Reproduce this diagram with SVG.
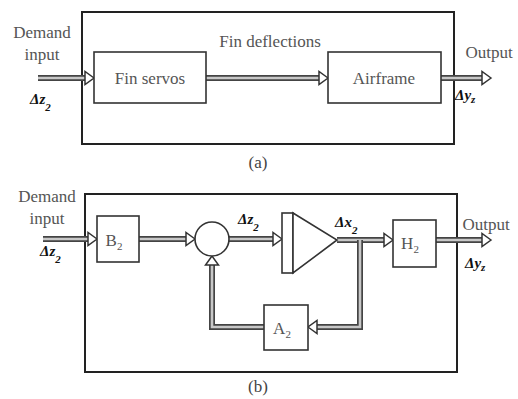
<svg xmlns="http://www.w3.org/2000/svg" width="518" height="399" viewBox="0 0 518 399">
<style>
.frame{fill:none;stroke:#222;stroke-width:2}
.blk{fill:#fff;stroke:#333;stroke-width:1.6}
.txt{font-family:"Liberation Serif",serif;font-size:17px;fill:#555}
.cap{font-family:"Liberation Serif",serif;font-size:17px;fill:#444}
.sym{font-family:"Liberation Serif",serif;font-size:15px;font-weight:bold;font-style:italic;fill:#111}
.sub{font-size:11px}
.shaftO{fill:none;stroke:#444;stroke-width:6}
.shaftI{fill:none;stroke:#c8c8c8;stroke-width:2.6}
.head{fill:#fff;stroke:#333;stroke-width:1.5;stroke-linejoin:miter}
</style>
<defs>
<polygon id="ah" class="head" points="0,0 -9,-6.5 -9,6.5"/>
</defs>
<rect width="518" height="399" fill="#fff"/>

<!-- Panel (a) -->
<rect class="frame" x="82" y="12" width="372" height="132"/>
<g id="connectors-a">
<path class="shaftO" d="M38,78H86"/><path class="shaftI" d="M38,78H86"/><use href="#ah" x="94" y="78"/>
<path class="shaftO" d="M206,78H320"/><path class="shaftI" d="M206,78H320"/><use href="#ah" x="328" y="78"/>
<path class="shaftO" d="M441,78H483"/><path class="shaftI" d="M441,78H483"/><use href="#ah" x="491" y="78"/>
</g>
<g id="fin-servos"><rect class="blk" x="94" y="52" width="112" height="51"/><text class="txt" x="150" y="84" text-anchor="middle">Fin servos</text></g>
<g id="airframe"><rect class="blk" x="328" y="52" width="113" height="51"/><text class="txt" x="384" y="84" text-anchor="middle">Airframe</text></g>
<text class="txt" x="42" y="38" text-anchor="middle">Demand</text>
<text class="txt" x="42" y="60" text-anchor="middle">input</text>
<text class="txt" x="270" y="47" text-anchor="middle">Fin deflections</text>
<text class="txt" x="489" y="58" text-anchor="middle">Output</text>
<text class="sym" x="30" y="104">Δz<tspan class="sub" dy="7">2</tspan></text>
<text class="sym" x="455" y="100">Δy<tspan class="sub" dy="3">z</tspan></text>
<text class="cap" x="258" y="168" text-anchor="middle">(a)</text>

<!-- Panel (b) -->
<rect class="frame" x="85" y="194" width="372" height="178"/>
<g id="connectors-b">
<path class="shaftO" d="M43,239H89"/><path class="shaftI" d="M43,239H89"/><use href="#ah" x="97" y="239"/>
<path class="shaftO" d="M139,239H187"/><path class="shaftI" d="M139,239H187"/><use href="#ah" x="195" y="239"/>
<path class="shaftO" d="M229,239H274"/><path class="shaftI" d="M229,239H274"/><use href="#ah" x="282" y="239"/>
<path class="shaftO" d="M337,240H385"/><path class="shaftI" d="M337,240H385"/><use href="#ah" x="393" y="240"/>
<path class="shaftO" d="M436,240H483"/><path class="shaftI" d="M436,240H483"/><use href="#ah" x="491" y="240"/>
<path class="shaftO" d="M360,240V327H316"/><path class="shaftI" d="M360,240V327H316"/><use href="#ah" x="308" y="327" transform="rotate(180 308 327)"/>
<path class="shaftO" d="M264,327H212V264"/><path class="shaftI" d="M264,327H212V264"/><use href="#ah" x="212" y="256" transform="rotate(-90 212 256)"/>
</g>
<g id="b2"><rect class="blk" x="97" y="216" width="42" height="46"/><text class="txt" x="114" y="246" text-anchor="middle">B<tspan class="sub" dy="4">2</tspan></text></g>
<g id="sum"><circle class="blk" cx="212" cy="239" r="17"/></g>
<g id="amp"><rect class="blk" x="282" y="213" width="11" height="60"/><polygon class="blk" points="293,213 337,240 293,273"/></g>
<g id="h2"><rect class="blk" x="393" y="220" width="43" height="47"/><text class="txt" x="410" y="249" text-anchor="middle">H<tspan class="sub" dy="4">2</tspan></text></g>
<g id="a2"><rect class="blk" x="264" y="305" width="44" height="45"/><text class="txt" x="282" y="334" text-anchor="middle">A<tspan class="sub" dy="4">2</tspan></text></g>
<text class="txt" x="47" y="202" text-anchor="middle">Demand</text>
<text class="txt" x="47" y="224" text-anchor="middle">input</text>
<text class="txt" x="486" y="230" text-anchor="middle">Output</text>
<text class="sym" x="40" y="256">Δz<tspan class="sub" dy="7">2</tspan></text>
<text class="sym" x="238" y="224">Δz<tspan class="sub" dy="7">2</tspan></text>
<text class="sym" x="335" y="227">Δx<tspan class="sub" dy="7">2</tspan></text>
<text class="sym" x="465" y="268">Δy<tspan class="sub" dy="3">z</tspan></text>
<text class="cap" x="258" y="392" text-anchor="middle">(b)</text>
</svg>
